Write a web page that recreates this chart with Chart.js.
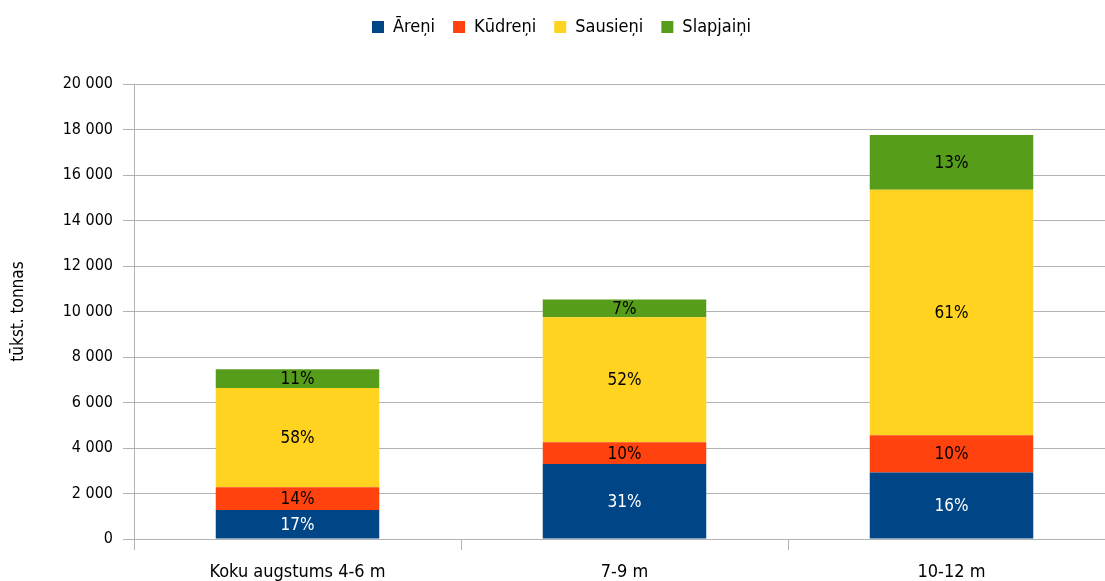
<!DOCTYPE html>
<html>
<head>
<meta charset="utf-8">
<script src="https://cdn.jsdelivr.net/npm/chart.js@4/dist/chart.umd.min.js"></script>
<style>
    html, body { margin: 0; padding: 0; background: #fff; overflow: hidden; }
    #wrap { position: relative; width: 1120px; height: 581px; }
</style>
</head>
<body>
<div id="wrap"><canvas id="chart" width="1120" height="581"></canvas></div>
<script>
'use strict';

var categories = ['Koku augstums 4-6 m', '7-9 m', '10-12 m'];
var seriesNames = ['Āreņi', 'Kūdreņi', 'Sausieņi', 'Slapjaiņi'];
var areni = [1270, 3300, 2920];
var kudreni = [1010, 950, 1640];
var sausieni = [4360, 5500, 10790];
var slapjaini = [820, 780, 2410];
// percent labels as printed on the bars
var pctAreni = ['17%', '31%', '16%'];
var pctKudreni = ['14%', '10%', '10%'];
var pctSausieni = ['58%', '52%', '61%'];
var pctSlapjaini = ['11%', '7%', '13%'];
var yTicks = [0, 2000, 4000, 6000, 8000, 10000, 12000, 14000, 16000, 18000, 20000];

var colors = ['#004586', '#ff420e', '#ffd320', '#579d1c'];
var textColors = ['#ffffff', '#000000', '#000000', '#000000'];
var values = [areni, kudreni, sausieni, slapjaini];
var pcts = [pctAreni, pctKudreni, pctSausieni, pctSlapjaini];

var fontFamily = '"Liberation Sans Narrow", "DejaVu Sans Condensed", sans-serif';

var datasets = seriesNames.map(function (name, i) {
    return {
        label: name,
        data: values[i],
        pctLabels: pcts[i],
        textColor: textColors[i],
        backgroundColor: colors[i],
        borderWidth: 0,
        barPercentage: 0.5,
        categoryPercentage: 1.0
    };
});

// draws the percentage text in the middle of each segment
var barLabels = {
    id: 'barLabels',
    afterDatasetsDraw: function (chart) {
        var ctx = chart.ctx;
        ctx.save();
        ctx.font = '17px ' + fontFamily;
        ctx.textAlign = 'center';
        ctx.textBaseline = 'middle';
        chart.data.datasets.forEach(function (ds, i) {
            var meta = chart.getDatasetMeta(i);
            meta.data.forEach(function (bar, j) {
                ctx.fillStyle = ds.textColor;
                ctx.fillText(ds.pctLabels[j], bar.x, (bar.y + bar.base) / 2 + 1);
            });
        });
        ctx.restore();
    }
};

// leave more room under the legend so the plot starts lower
var legendSpace = {
    id: 'legendSpace',
    beforeInit: function (chart) {
        var fit = chart.legend.fit;
        chart.legend.fit = function () {
            fit.call(this);
            this.height += 38;
        };
    }
};

var ctx = document.getElementById('chart').getContext('2d');
var chart = new Chart(ctx, {
    type: 'bar',
    data: { labels: categories, datasets: datasets },
    options: {
        responsive: false,
        animation: false,
        devicePixelRatio: 1,
        layout: { padding: { left: 8, right: 5, top: 0, bottom: 0 } },
        scales: {
            x: {
                stacked: true,
                afterFit: function (scale) { scale.height = 42; },
                grid: {
                    offset: true,
                    drawOnChartArea: false,
                    color: '#b3b3b3',
                    tickLength: 11
                },
                border: { color: '#b3b3b3' },
                ticks: {
                    color: '#000',
                    maxRotation: 0,
                    font: { family: fontFamily, size: 18 },
                    padding: 12
                }
            },
            y: {
                stacked: true,
                min: 0,
                max: 20000,
                afterFit: function (scale) { scale.width = 126; },
                afterBuildTicks: function (scale) {
                    scale.ticks = yTicks.map(function (v) { return { value: v }; });
                },
                grid: { color: '#b3b3b3', tickLength: 11 },
                border: { color: '#b3b3b3' },
                ticks: {
                    color: '#000',
                    padding: 10,
                    font: { family: fontFamily, size: 16 },
                    callback: function (v) {
                        return String(v).replace(/\B(?=(\d{3})+(?!\d))/g, ' ');
                    }
                },
                title: {
                    display: true,
                    text: 'tūkst. tonnas',
                    color: '#000',
                    font: { family: fontFamily, size: 17 },
                    padding: { top: 0, bottom: 14 }
                }
            }
        },
        plugins: {
            legend: {
                display: true,
                position: 'top',
                labels: {
                    boxWidth: 12,
                    boxHeight: 12,
                    padding: 18,
                    color: '#000',
                    font: { family: fontFamily, size: 18 }
                }
            },
            tooltip: { enabled: false }
        }
    },
    plugins: [barLabels, legendSpace]
});
</script>
</body>
</html>
